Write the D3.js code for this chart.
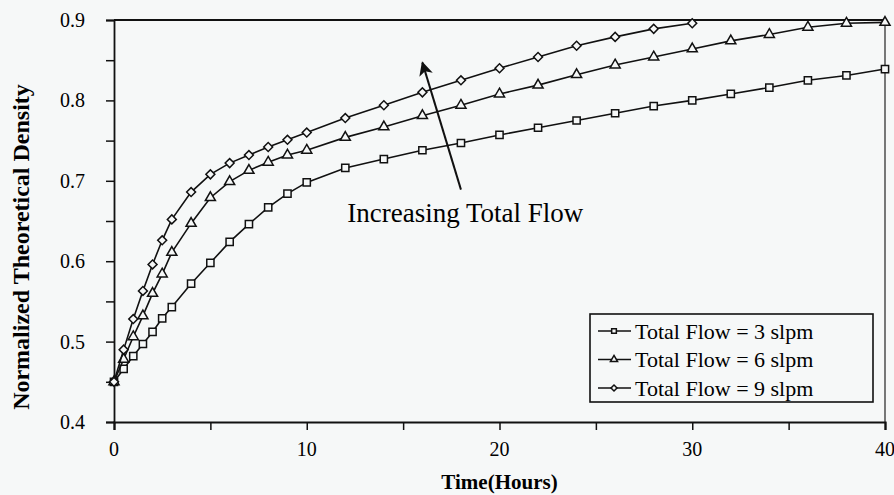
<!DOCTYPE html>
<html>
<head>
<meta charset="utf-8">
<script src="https://cdn.jsdelivr.net/npm/d3@7"></script>
<style>
  body { margin: 0; background: #f6f8f8; }
  svg { display: block; font-family: "Liberation Serif", "Times New Roman", serif; }
  .line { fill: none; stroke: #111; stroke-width: 1.6; }
  .mark { fill: #f6f8f8; stroke: #111; stroke-width: 1.5; }
</style>
</head>
<body>
<svg class="chart"></svg>
<script>
// hours at which each run was sampled
var hours = [0, 0.5, 1, 1.5, 2, 2.5, 3, 4, 5, 6, 7, 8, 9, 10, 12, 14, 16, 18, 20,
             22, 24, 26, 28, 30, 32, 34, 36, 38, 40];

var flow3 = [0.450, 0.466, 0.482, 0.497, 0.512, 0.529, 0.543, 0.572, 0.598, 0.624,
             0.646, 0.667, 0.684, 0.698, 0.716, 0.727, 0.738, 0.747, 0.757, 0.766,
             0.775, 0.784, 0.793, 0.800, 0.808, 0.816, 0.825, 0.831, 0.839];

var flow6 = [0.450, 0.478, 0.506, 0.532, 0.560, 0.584, 0.611, 0.647, 0.679, 0.699,
             0.713, 0.723, 0.732, 0.738, 0.754, 0.767, 0.781, 0.794, 0.808, 0.819,
             0.832, 0.844, 0.854, 0.864, 0.874, 0.882, 0.891, 0.896, 0.897];

// 9 slpm run stops at 30 h
var flow9 = [0.450, 0.490, 0.528, 0.563, 0.596, 0.626, 0.652, 0.686, 0.708, 0.722,
             0.732, 0.742, 0.751, 0.760, 0.778, 0.794, 0.810, 0.825, 0.840, 0.854,
             0.868, 0.879, 0.889, 0.896];

var xTicks = [0, 10, 20, 30, 40];
var xMinor = [0, 5, 10, 15, 20, 25, 30, 35, 40];
var yTicks = [0.4, 0.5, 0.6, 0.7, 0.8, 0.9];
var yMinor = [0.4, 0.45, 0.5, 0.55, 0.6, 0.65, 0.7, 0.75, 0.8, 0.85, 0.9];

var seriesNames = ["Total Flow = 3 slpm", "Total Flow = 6 slpm", "Total Flow = 9 slpm"];

// arrow annotation: [x0, y0] tail -> [x1, y1] head, in data units
var arrowFrom = [18, 0.689];
var arrowTo = [16, 0.847];
var noteText = "Increasing Total Flow";
var notePos = [12.1, 0.649];

var width = 894, height = 495;
var margin = {top: 20, right: 9, bottom: 73, left: 114};
var w = width - margin.left - margin.right;
var h = height - margin.top - margin.bottom;

var svg = d3.select(".chart")
    .attr("width", width)
    .attr("height", height);

var g = svg.append("g")
    .attr("transform", "translate(" + margin.left + "," + margin.top + ")");

var x = d3.scaleLinear().domain([0, 40]).range([0, w]);
var y = d3.scaleLinear().domain([0.4, 0.9]).range([h, 0]);

// frame
g.append("line").attr("x1", 0).attr("x2", w).attr("y1", 0).attr("y2", 0)
    .attr("stroke", "#111").attr("stroke-width", 2);
g.append("line").attr("x1", w).attr("x2", w).attr("y1", 0).attr("y2", h)
    .attr("stroke", "#222").attr("stroke-width", 1.2);

// axes
var yAxis = g.append("g")
    .call(d3.axisLeft(y).tickValues(yMinor).tickSize(8).tickFormat(""));
yAxis.select(".domain").attr("stroke", "#111").attr("stroke-width", 1.8);
yAxis.selectAll(".tick line").attr("stroke", "#111").attr("stroke-width", 1.5);

g.selectAll(".ylab")
    .data(yTicks)
  .enter().append("text")
    .attr("class", "ylab")
    .attr("x", -29)
    .attr("y", function(d) { return y(d); })
    .attr("dy", "0.35em")
    .attr("text-anchor", "end")
    .attr("font-size", 20)
    .text(function(d) { return d3.format(".1f")(d); });

var xAxis = g.append("g")
    .attr("transform", "translate(0," + h + ")")
    .call(d3.axisBottom(x).tickValues(xMinor).tickSize(8).tickFormat(""));
xAxis.select(".domain").attr("stroke", "#111").attr("stroke-width", 2.2);
xAxis.selectAll(".tick line").attr("stroke", "#111").attr("stroke-width", 1.5);

g.selectAll(".xlab")
    .data(xTicks)
  .enter().append("text")
    .attr("class", "xlab")
    .attr("x", function(d) { return x(d); })
    .attr("y", h + 34)
    .attr("text-anchor", "middle")
    .attr("font-size", 20)
    .text(function(d) { return d; });

svg.append("text")
    .attr("x", margin.left + w / 2)
    .attr("y", 489)
    .attr("text-anchor", "middle")
    .attr("font-size", 21)
    .attr("font-weight", "bold")
    .text("Time(Hours)");

svg.append("text")
    .attr("transform", "translate(29,247) rotate(-90)")
    .attr("text-anchor", "middle")
    .attr("font-size", 24)
    .attr("font-weight", "bold")
    .text("Normalized Theoretical Density");

// markers: square, triangle, diamond (a square turned 45 degrees)
var symbols = [d3.symbolSquare, d3.symbolTriangle, d3.symbolSquare];
var symSizes = [52, 44, 40];
var symTurn = [0, 0, 45];
var data = [flow3, flow6, flow9];

var line = d3.line()
    .x(function(d) { return x(d[0]); })
    .y(function(d) { return y(d[1]); });

data.forEach(function(vals, i) {
    var pts = vals.map(function(v, j) { return [hours[j], v]; });
    g.append("path")
        .datum(pts)
        .attr("class", "line")
        .attr("d", line);
    g.selectAll(".m" + i)
        .data(pts)
      .enter().append("path")
        .attr("class", "mark m" + i)
        .attr("transform", function(d) {
            return "translate(" + x(d[0]) + "," + y(d[1]) + ") rotate(" + symTurn[i] + ")";
        })
        .attr("d", d3.symbol().type(symbols[i]).size(symSizes[i]));
});

// annotation arrow
svg.append("defs").append("marker")
    .attr("id", "head")
    .attr("viewBox", "0 0 10 10")
    .attr("refX", 9).attr("refY", 5)
    .attr("markerWidth", 7).attr("markerHeight", 8)
    .attr("markerUnits", "strokeWidth")
    .attr("orient", "auto")
  .append("path")
    .attr("d", "M0,0 L10,5 L0,10 L2.5,5 Z")
    .attr("fill", "#111");

g.append("line")
    .attr("x1", x(arrowFrom[0])).attr("y1", y(arrowFrom[1]))
    .attr("x2", x(arrowTo[0])).attr("y2", y(arrowTo[1]))
    .attr("stroke", "#111")
    .attr("stroke-width", 2)
    .attr("marker-end", "url(#head)");

g.append("text")
    .attr("x", x(notePos[0]))
    .attr("y", y(notePos[1]))
    .attr("font-size", 27)
    .text(noteText);

// legend
var lg = svg.append("g").attr("transform", "translate(590,314)");
lg.append("rect")
    .attr("width", 283).attr("height", 88)
    .attr("fill", "#f6f8f8")
    .attr("stroke", "#111").attr("stroke-width", 1.6);

var rows = lg.selectAll(".row")
    .data(seriesNames)
  .enter().append("g")
    .attr("transform", function(d, i) { return "translate(0," + (17 + i * 28.5) + ")"; });

rows.append("line")
    .attr("x1", 8).attr("x2", 41).attr("y1", 0).attr("y2", 0)
    .attr("stroke", "#111").attr("stroke-width", 1.6);
rows.append("path")
    .attr("class", "mark")
    .attr("transform", function(d, i) { return "translate(24,0) rotate(" + symTurn[i] + ")"; })
    .attr("d", function(d, i) { return d3.symbol().type(symbols[i]).size(i === 2 ? 18 : 22)(); });
rows.append("text")
    .attr("x", 45)
    .attr("y", 0)
    .attr("dy", "0.35em")
    .attr("font-size", 22)
    .text(function(d) { return d; });
</script>
</body>
</html>
